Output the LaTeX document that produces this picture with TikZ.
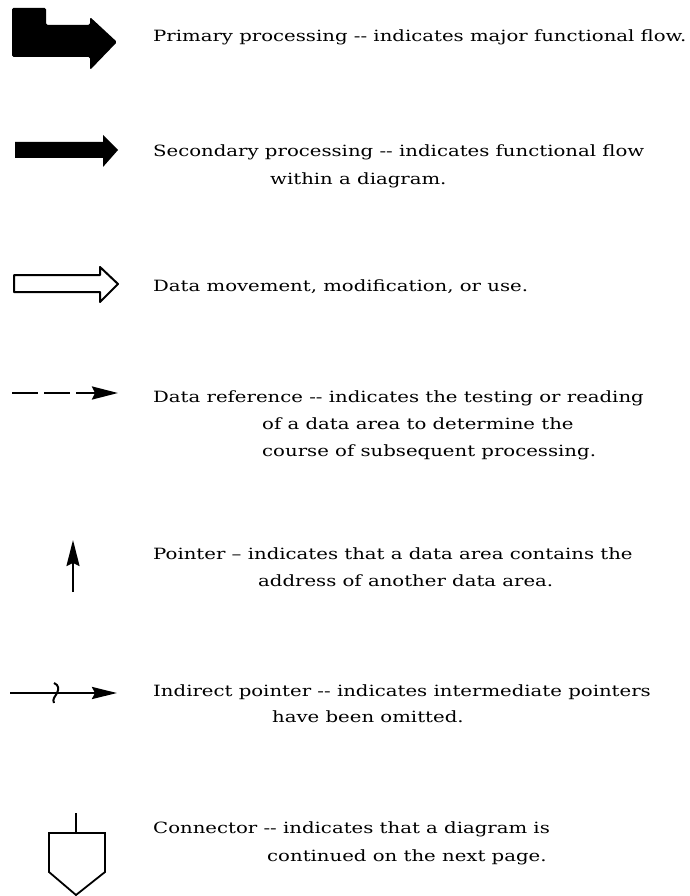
\documentclass[tikz,border=0pt]{standalone}
\usepackage{fontspec}
\setmainfont[FakeStretch=1.27]{DejaVu Serif}
\usetikzlibrary{arrows.meta,positioning}
\newcommand{\dd}{-{}-}

\begin{document}
\begin{tikzpicture}[x=1pt, y=-1pt,
    legend/.style={anchor=base west, inner sep=0pt, font=\fontsize{15.5}{18}\selectfont},
    solidhead/.style={line width=2.5pt, -{Stealth[length=26pt, width=13pt, inset=3pt]}}]
    \useasboundingbox (0,0) rectangle (690,896);

	% primary processing
	\fill[rounded corners=1.5pt] (12,8) -- (46,8) -- (46,25) -- (90,25) -- (90,17) -- (117,42)
	    -- (90,70) -- (90,57) -- (12,57) -- cycle;
	\node[legend] (primary) at (153,42) {Primary processing \dd{} indicates major functional flow.};

	% secondary processing
	\fill (15,142) -- (103,142) -- (103,135) -- (118,150) -- (103,167) -- (103,158) -- (15,158) -- cycle;
	\node[legend] (secondary) at (153,157) {Secondary processing \dd{} indicates functional flow};
	\node[legend] (secondary2) at (270,185) {within a diagram.};

	% data movement
	\draw[line width=2pt, line join=round] (14,275) -- (100,275) -- (100,267) -- (118,284) -- (100,302)
	    -- (100,292) -- (14,292) -- cycle;
	\node[legend] (movement) at (153,291) {Data movement, modification, or use.};

	% data reference
	\coordinate (refstart) at (12,393);
	\coordinate (refend) at (118,393);
	\draw[solidhead, dash pattern=on 26pt off 6pt] (refstart) -- (refend);
	\node[legend] (reference) at (153,402) {Data reference \dd{} indicates the testing or reading};
	\node[legend] (reference2) at (262,429) {of a data area to determine the};
	\node[legend] (reference3) at (262,456) {course of subsequent processing.};

	% pointer
	\coordinate (ptrstart) at (73,592);
	\coordinate (ptrend) at (73,540);
	\draw[solidhead, line width=2pt] (ptrstart) -- (ptrend);
	\node[legend] (pointer) at (153,559) {Pointer -- indicates that a data area contains the};
	\node[legend] (pointer2) at (258,586) {address of another data area.};

	% indirect pointer
	\coordinate (indstart) at (10,693);
	\coordinate (indend) at (117,693);
	\draw[solidhead, -{Stealth[length=25pt, width=12pt, inset=3pt]}] (indstart) -- (indend);
	\draw[line width=2pt] (54,683) .. controls (59,685) and (59,689) .. (57,693)
	    .. controls (55,697) and (52,699) .. (54,703);
	\node[legend] (indirect) at (153,696) {Indirect pointer \dd{} indicates intermediate pointers};
	\node[legend] (indirect2) at (272,722) {have been omitted.};

	% connector
	\coordinate (stemtop) at (76,813);
	\coordinate (stembot) at (76,833);
	\draw[line width=1.8pt] (stemtop) -- (stembot);
	\draw[line width=1.8pt, line join=miter] (49,833) -- (105,833) -- (105,872) -- (76,895) -- (49,872) -- cycle;
	\node[legend] (connector) at (153,833) {Connector \dd{} indicates that a diagram is};
	\node[legend] (connector2) at (267,861) {continued on the next page.};
\end{tikzpicture}
\end{document}
